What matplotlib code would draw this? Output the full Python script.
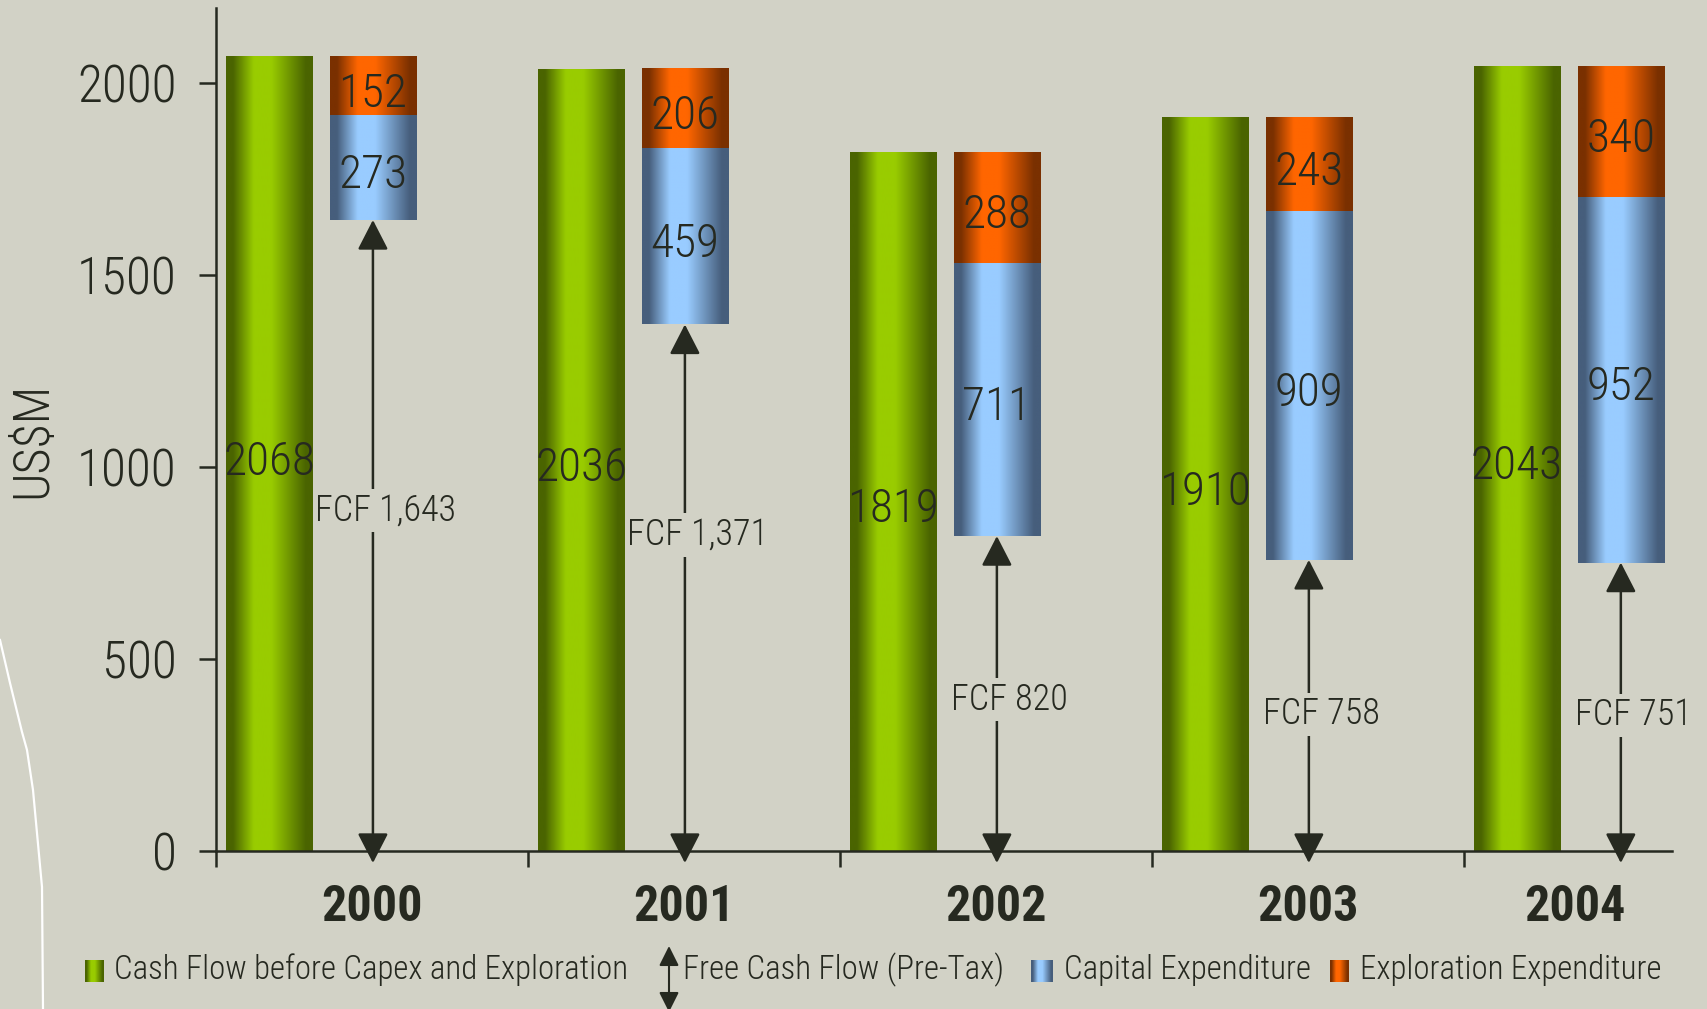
import numpy as np
import matplotlib
matplotlib.use("Agg")
import matplotlib.pyplot as plt
from matplotlib.colors import LinearSegmentedColormap, to_rgb

# values (US$M)
years = ["2000", "2001", "2002", "2003", "2004"]
cash_flow = [2068, 2036, 1819, 1910, 2043]
free_cash_flow = [1643, 1371, 820, 758, 751]
capex = [273, 459, 711, 909, 952]
exploration = [152, 206, 288, 243, 340]
yticks = [0, 500, 1000, 1500, 2000]

legend_labels = [
    "Cash Flow before Capex and Exploration",
    "Free Cash Flow (Pre-Tax)",
    "Capital Expenditure",
    "Exploration Expenditure",
]

# layout: where each FCF label sits along its arrow (fraction of length)
fcf_label_pos = [0.54, 0.60, 0.48, 0.47, 0.47]

BG = "#d2d2c6"
INK = "#262920"
YMAX = 2195
XMAX = 4.667
BAR_W = 0.276

plt.rcParams["font.family"] = ["Roboto Condensed", "Liberation Sans Narrow", "DejaVu Sans"]
plt.rcParams["font.weight"] = 300


def cylinder(dark, light):
    # horizontal shading that makes a flat bar look like a tube
    mid = tuple((np.array(to_rgb(dark)) + np.array(to_rgb(light))) / 2)
    return LinearSegmentedColormap.from_list(
        "", [(0, dark), (0.08, dark), (0.32, light), (0.52, light),
             (0.72, mid), (0.92, dark), (1, dark)])


green = cylinder("#4a6400", "#99cc00")
blue = cylinder("#465e7c", "#99ccff")
orange = cylinder("#7a3000", "#ff6600")
grad = np.linspace(0, 1, 256)[None, :]

fig = plt.figure(figsize=(17.08, 10.09), dpi=100, facecolor=BG)
ax = fig.add_axes([216 / 1708, 158 / 1009, 1456 / 1708, 843 / 1009])
ax.set_facecolor("none")


def paint(bars, cmap):
    for b in bars:
        x, y = b.get_xy()
        ax.imshow(grad, cmap=cmap, aspect="auto", interpolation="bilinear",
                  extent=(x, x + b.get_width(), y, y + b.get_height()), zorder=2)
        b.set_facecolor("none")


idx = np.arange(len(years))
x_cf = idx + 0.170
x_st = idx + 0.503
fcf = np.array(free_cash_flow)
cap = np.array(capex)

b1 = ax.bar(x_cf, cash_flow, BAR_W, linewidth=0)
b2 = ax.bar(x_st, capex, BAR_W, bottom=fcf, linewidth=0)
b3 = ax.bar(x_st, exploration, BAR_W, bottom=fcf + cap, linewidth=0)
paint(b1, green)
paint(b2, blue)
paint(b3, orange)

ax.set_xlim(0, XMAX)
ax.set_ylim(0, YMAX)

for bars in (b1, b2, b3):
    for b in bars:
        ax.annotate(f"{b.get_height():.0f}",
                    xy=(b.get_x() + b.get_width() / 2, b.get_y() + b.get_height() / 2),
                    xytext=(0, -5.5), textcoords="offset points",
                    ha="center", va="center", fontsize=34, color=INK, zorder=4)

# arrows from the axis up to the bottom of the capex bar; they sit under the
# bars so the label's background box never covers a bar edge
unit_px = fig.dpi * fig.get_figheight() * ax.get_position().height / YMAX
y_low = -12 / unit_px
for x, v, p in zip(x_st, free_cash_flow, fcf_label_pos):
    ax.annotate("", xy=(x, v), xytext=(x, y_low),
                arrowprops=dict(arrowstyle="<|-|>,head_length=18.5,head_width=9.5",
                                mutation_scale=1, color=INK, lw=1.8,
                                shrinkA=0, shrinkB=0), zorder=1.5)
    ax.annotate(f"FCF {v:,}", xy=(x, v * p), xytext=(9, 0), textcoords="offset points",
                ha="center", va="center", fontsize=26, color=INK, zorder=1.8,
                bbox=dict(boxstyle="square,pad=0.1", fc=BG, ec="none"))

# year labels, kept inside the clipped right edge
for i, yr in enumerate(years):
    ax.annotate(yr, xy=(min(i + 0.5, XMAX - 0.31), 0), xytext=(0, -41),
                textcoords="offset points", ha="center", va="center",
                fontsize=36, fontweight="bold", color=INK, annotation_clip=False)

ax.set_yticks(yticks)
ax.set_xticks(idx)
ax.set_xticklabels([])
ax.tick_params(axis="y", length=12, width=1.8, pad=16.5, labelsize=37, colors=INK)
ax.tick_params(axis="x", length=11.5, width=1.8, colors=INK)
for s in ("top", "right"):
    ax.spines[s].set_visible(False)
for s in ("left", "bottom"):
    ax.spines[s].set_color(INK)
    ax.spines[s].set_linewidth(1.8)
    ax.spines[s].set_zorder(6)

ax.text(-0.1257, 0.4875, "US$M", rotation=90, ha="center", va="center",
        fontsize=36, color=INK, transform=ax.transAxes)

# overlay in pixel coords for the legend and the slide decoration
ov = fig.add_axes([0, 0, 1, 1])
ov.axis("off")
ov.plot([0, 10, 22, 27, 33, 42, 43], [640, 683, 732, 750, 790, 887, 1009],
        color="white", lw=1.6)

for (l, r), cmap in zip([(85, 104), (1031, 1053), (1330, 1349)], [green, blue, orange]):
    ov.imshow(grad, cmap=cmap, aspect="auto", extent=(l, r, 982, 960))
ov.annotate("", xy=(669, 946), xytext=(669, 1012),
            arrowprops=dict(arrowstyle="<|-|>,head_length=12,head_width=6",
                            mutation_scale=1, color=INK, lw=1.5,
                            shrinkA=0, shrinkB=0), annotation_clip=False)
for x, lab in zip([114, 683, 1064, 1360], legend_labels):
    ov.text(x, 970, lab, ha="left", va="center", fontsize=23.7, color=INK)
ov.set_xlim(0, 1708)
ov.set_ylim(1009, 0)

fig.savefig("out.png", dpi=100, facecolor=BG)
